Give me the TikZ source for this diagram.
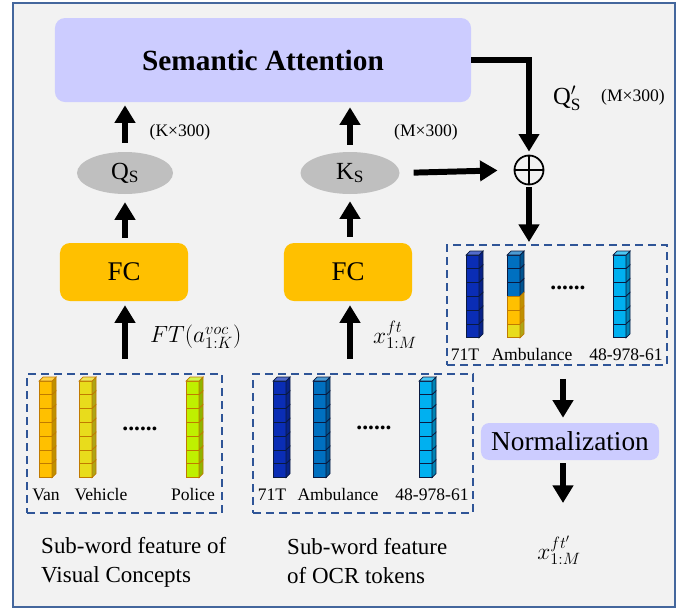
\RequirePackage{fix-cm}
\documentclass[tikz,border=0pt]{standalone}
\usepackage{fontspec}
\setmainfont{Liberation Serif}
\usetikzlibrary{arrows.meta,calc,shapes.geometric}

\definecolor{bgc}{HTML}{F2F2F2}
\definecolor{framec}{HTML}{44679D}
\definecolor{sac}{HTML}{CCCCFF}
\definecolor{fcc}{HTML}{FFC000}
\definecolor{ellc}{HTML}{BFBFBF}
\definecolor{dashc}{HTML}{2F5597}
\definecolor{cvan}{HTML}{FFC000}
\definecolor{cveh}{HTML}{E8DC1C}
\definecolor{cpol}{HTML}{BFF000}
\definecolor{cdark}{HTML}{0A2DB5}
\definecolor{cmid}{HTML}{0070C0}
\definecolor{clight}{HTML}{00B0F0}
\definecolor{eorange}{HTML}{C07A00}
\definecolor{eblue}{HTML}{0A1A40}

\newcommand{\onecube}[4]{%
  \filldraw[fill=#3, draw=#4, line width=0.6pt] ({#1},{#2}) rectangle ++(13,13.8);
  \filldraw[fill=#3!75!black, draw=#4, line width=0.6pt] ({#1+13},{#2}) -- ++(4,-4) -- ++(0,13.8) -- ++(-4,4) -- cycle;
}
\newcommand{\cubetop}[4]{%
  \filldraw[fill=#3!70!white, draw=#4, line width=0.6pt] ({#1},{#2}) -- ++(4,-4) -- ++(13,0) -- ++(-4,4) -- cycle;
}
\newcommand{\cubecol}[5]{%
  \foreach \k [evaluate=\k as \yy using {#2+(\k-1)*13.8}] in {1,...,#3} {\onecube{#1}{\yy}{#4}{#5}}
  \cubetop{#1}{#2}{#4}{#5}%
}

\begin{document}
\begin{tikzpicture}[x=0.03cm,y=-0.03cm,
  fat/.style={line width=5.1pt,-{Triangle[width=17pt,length=15pt]}},
  roundbox/.style={rounded corners=0.3cm, inner sep=0pt},
  dbox/.style={draw=dashc, line width=1.7pt, dash pattern=on 6.8pt off 4.3pt, inner sep=0pt},
  lab/.style={font=\fontsize{15}{18}\selectfont, inner sep=0pt},
  cubelab/.style={font=\fontsize{15}{18}\selectfont, inner sep=0pt, anchor=base},
  dots/.style={font=\fontsize{20}{24}\selectfont\bfseries, inner sep=0pt},
  mathlab/.style={font=\fontsize{20}{24}\selectfont, inner sep=0pt},
  caption/.style={font=\fontsize{19.6}{24.7}\selectfont, inner sep=0pt, anchor=base west},
]
\useasboundingbox (0,0) rectangle (691,610);
\filldraw[fill=bgc, draw=framec, line width=1.7pt] (13,3) rectangle (675,607);

% main blocks
\node[roundbox, fill=sac, minimum width=12.48cm, minimum height=2.52cm,
      font=\fontsize{25}{30}\selectfont\bfseries] (sa) at (263,60) {Semantic Attention};
\node[ellipse, fill=ellc, minimum width=2.88cm, minimum height=1.26cm, inner sep=0pt,
      font=\fontsize{21}{25}\selectfont] (qs) at (125,173) {$\mathrm{Q}_{\mathrm{S}}$};
\node[ellipse, fill=ellc, minimum width=2.97cm, minimum height=1.26cm, inner sep=0pt,
      font=\fontsize{21}{25}\selectfont] (ks) at (350,173) {$\mathrm{K}_{\mathrm{S}}$};
\node[roundbox, fill=fcc, minimum width=3.84cm, minimum height=1.74cm,
      font=\fontsize{23}{27}\selectfont] (fc1) at (124,272) {FC};
\node[roundbox, fill=fcc, minimum width=3.84cm, minimum height=1.74cm,
      font=\fontsize{23}{27}\selectfont] (fc2) at (348,272) {FC};
\node[circle, draw, line width=1.5pt, minimum size=0.87cm, inner sep=0pt] (plus) at (529,170) {};
\draw[line width=1.5pt] (plus.north) -- (plus.south) (plus.west) -- (plus.east);

\node[dbox, minimum width=5.85cm, minimum height=4.17cm] (box1) at (124.5,443.5) {};
\node[dbox, minimum width=6.6cm, minimum height=4.17cm] (box2) at (363,443.5) {};
\node[dbox, minimum width=6.6cm, minimum height=3.6cm] (box3) at (557,305) {};

\node[roundbox, fill=sac, minimum width=5.34cm, minimum height=1.11cm, rounded corners=0.25cm,
      font=\fontsize{23.3}{27}\selectfont] (norm) at (570,441.5) {Normalization};

% labels
\node[lab] (kdim) at (180,132) {(K×300)};
\node[lab] (mdim) at (426,132) {(M×300)};
\node[font=\fontsize{21}{25}\selectfont, inner sep=0pt] (qsp) at (567,98) {$\mathrm{Q}'_{\mathrm{S}}$};
\node[lab] (mdim2) at (633,97) {(M×300)};
\node[mathlab, anchor=west] (ftlab) at (150,337) {$FT(a^{voc}_{1:K})$};
\node[mathlab, anchor=west] (xlab) at (373,335) {$x^{ft}_{1:M}$};
\node[mathlab] (out) at (559,550) {$x^{ft'}_{1:M}$};

% connectors
\coordinate (acol) at (563,0);
\coordinate (outtip) at (563,503);
\draw[fat, shorten <=7.7pt, shorten >=2.6pt] (qs) -- (qs |- sa.south);
\draw[fat, shorten <=6pt, shorten >=4.3pt] (ks) -- (ks |- sa.south);
\draw[fat, shorten <=4.3pt, shorten >=6.8pt] (fc1.north -| qs) -- (qs.south);
\draw[fat, shorten <=5.1pt, shorten >=6pt] (fc2.north -| ks) -- (ks.south);
\draw[fat, shorten <=12pt, shorten >=3.4pt] (box1.north -| qs) -- (fc1.south -| qs);
\draw[fat, shorten <=12pt, shorten >=3.4pt] (box2.north -| ks) -- (fc2.south -| ks);
\draw[fat, shorten <=11.9pt, shorten >=13.7pt] (ks.east) -- (plus.west);
\draw[fat, shorten >=2.6pt] (sa.east) -| (plus.north);
\draw[fat, shorten <=1.7pt, shorten >=1.7pt] (plus.south) -- (plus.south |- box3.north);
\draw[fat, shorten <=11pt, shorten >=4.3pt] (box3.south -| acol) -- (norm.north -| acol);
\draw[fat, shorten <=2.6pt] (norm.south -| acol) -- (outtip);

% cubes: visual concepts
\cubecol{39}{381}{7}{cvan}{eorange}
\cubecol{79}{381}{7}{cveh}{eorange}
\cubecol{186}{381}{7}{cpol}{eorange}
\node[dots] (d1) at (140,429) {......};
\node[cubelab] (lvan) at (46,500) {Van};
\node[cubelab] (lveh) at (101,500) {Vehicle};
\node[cubelab] (lpol) at (193,500) {Police};

% cubes: OCR tokens
\cubecol{273}{381}{7}{cdark}{eblue}
\cubecol{313}{381}{7}{cmid}{eblue}
\cubecol{419}{381}{7}{clight}{eblue}
\node[dots] (d2) at (374,428) {......};
\node[cubelab] (l71) at (272,500) {71T};
\node[cubelab] (lamb) at (338,500) {Ambulance};
\node[cubelab] (l48) at (432,500) {48-978-61};

% cubes: fused
\cubecol{466}{255}{6}{cdark}{eblue}
\onecube{507}{255}{cmid}{eblue}
\onecube{507}{268.8}{cmid}{eblue}
\onecube{507}{282.6}{cmid}{eblue}
\onecube{507}{296.4}{cvan}{eorange}
\onecube{507}{310.2}{cvan}{eorange}
\onecube{507}{324}{cveh}{eorange}
\cubetop{507}{255}{cmid}{eblue}
\cubecol{613}{255}{6}{clight}{eblue}
\node[dots] (d3) at (568,288) {......};
\node[cubelab] (m71) at (465,360) {71T};
\node[cubelab] (mamb) at (532,360) {Ambulance};
\node[cubelab] (m48) at (626,360) {48-978-61};

% captions
\node[caption] (c1a) at (41,553) {Sub-word feature of};
\node[caption] (c1b) at (41,582) {Visual Concepts};
\node[caption] (c2a) at (287,554) {Sub-word feature};
\node[caption] (c2b) at (287,583) {of OCR tokens};
\end{tikzpicture}
\end{document}
